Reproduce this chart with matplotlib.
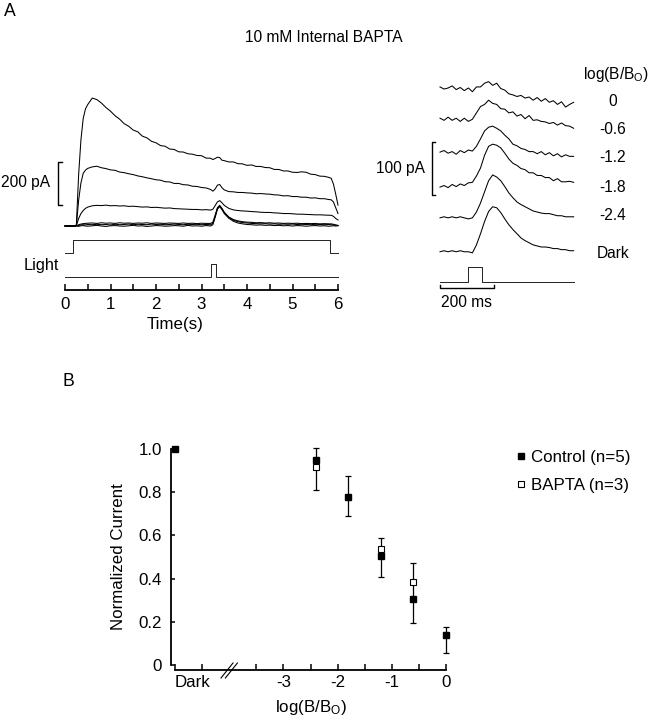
import matplotlib
matplotlib.use('Agg')
import matplotlib.pyplot as plt
from matplotlib.lines import Line2D
from matplotlib.transforms import IdentityTransform

plt.rcParams['font.family'] = ['Liberation Sans', 'DejaVu Sans']
plt.rcParams['mathtext.fontset'] = 'custom'
plt.rcParams['mathtext.rm'] = 'Liberation Sans'
plt.rcParams['mathtext.it'] = 'Liberation Sans:italic'
plt.rcParams['mathtext.bf'] = 'Liberation Sans:bold'

# ---------------- data: panel A, left (full light step responses) ----------------
time_s = [0.0, 0.1, 0.2, 0.25, 0.3, 0.35, 0.4, 0.45, 0.5,
          0.6, 0.7, 0.8, 0.9, 1.0, 1.1, 1.2, 1.3, 1.4, 1.5, 1.6, 1.7, 1.8, 1.9, 2.0,
          2.1, 2.2, 2.3, 2.4, 2.5, 2.6, 2.7, 2.8, 2.9, 3.0, 3.1, 3.2,
          3.25, 3.3, 3.35, 3.4, 3.45, 3.5,
          3.6, 3.7, 3.8, 3.9, 4.0, 4.1, 4.2, 4.3, 4.4, 4.5, 4.6, 4.7, 4.8, 4.9, 5.0,
          5.1, 5.2, 5.3, 5.4, 5.5, 5.6, 5.7, 5.8,
          5.85, 5.9, 5.95, 6.0]
current_log0 = [0, 2, -1, 5, 240, 400, 500, 545, 565,
                595, 588, 572, 551, 534, 513, 497, 476, 464, 446, 438, 418, 410, 394, 387,
                374, 371, 358, 356, 345, 344, 336, 334, 328, 327, 316, 315,
                309, 314, 320, 318, 306, 304,
                298, 298, 290, 289, 282, 284, 277, 277, 272, 271, 263, 263, 256, 256, 250,
                249, 252, 250, 241, 239, 232, 231, 226,
                222, 195, 148, 97]
current_log06 = [0, -2, 1, 3, 120, 200, 245, 260, 268,
                 275, 278, 271, 267, 261, 259, 251, 248, 243, 239, 233, 229, 224, 220, 215,
                 213, 206, 205, 198, 198, 192, 191, 185, 184, 179, 177, 170,
                 162, 172, 190, 193, 178, 168,
                 160, 159, 156, 156, 154, 153, 150, 151, 149, 148, 145, 144, 140, 141, 137,
                 137, 134, 134, 130, 131, 127, 127, 123,
                 122, 112, 85, 58]
current_log12 = [0, 1, -1, 2, 35, 58, 72, 82, 88,
                 94, 96, 95, 97, 94, 95, 93, 94, 91, 92, 90, 88, 89, 86, 87,
                 85, 83, 84, 81, 80, 79, 78, 77, 77, 75, 76, 74,
                 78, 95, 112, 118, 108, 96,
                 82, 75, 72, 70, 69, 67, 66, 64, 63, 63, 61, 60, 58, 58, 57,
                 55, 55, 54, 53, 52, 52, 51, 50,
                 50, 45, 35, 28]
current_log18 = [0, -1, 1, 0, 6, 9, 11, 12, 13,
                 14, 12, 15, 13, 14, 12, 15, 13, 14, 12, 14, 13, 15, 12, 14,
                 13, 12, 14, 13, 12, 14, 12, 13, 11, 13, 12, 12,
                 18, 50, 85, 96, 82, 64,
                 42, 30, 24, 20, 18, 17, 15, 16, 14, 15, 13, 14, 12, 13, 12,
                 13, 11, 12, 11, 12, 10, 11, 10,
                 10, 8, 5, 3]
current_log24 = [1, 0, -1, 1, 3, 5, 6, 5, 7,
                 6, 8, 6, 7, 5, 8, 6, 7, 9, 6, 8, 7, 6, 9, 7,
                 8, 6, 7, 9, 7, 6, 8, 7, 8, 6, 7, 6,
                 12, 45, 82, 94, 80, 62,
                 40, 27, 20, 16, 14, 12, 11, 10, 11, 9, 10, 8, 9, 8, 9,
                 7, 8, 7, 8, 6, 7, 6, 7,
                 6, 5, 3, 2]
current_dark = [0, 2, -1, 1, -2, 1, 2, 0, -1,
                1, 3, 0, -2, 1, 2, 0, -1, 1, 3, 0, 1, -2, 0, 2,
                1, -1, 0, 2, 1, -1, 3, 0, 1, -1, 2, 0,
                6, 40, 78, 90, 76, 58,
                36, 22, 14, 10, 7, 6, 4, 5, 3, 4, 2, 3, 1, 2, 0,
                2, 1, -1, 1, 2, 0, 1, -1,
                0, 1, 0, 1]
left_traces = [current_log0, current_log06, current_log12,
               current_log18, current_log24, current_dark]

step_t = [0.0, 0.18, 0.18, 5.82, 5.82, 6.0]
step_on = [0, 0, 1, 1, 0, 0]
flash_t = [0.0, 3.2, 3.2, 3.32, 3.32, 6.0]
flash_on = [0, 0, 1, 1, 0, 0]

# ---------------- data: panel A, right (flash responses, expanded) ----------------
time_ms = [0, 15, 30, 45, 60, 75, 90, 105, 120, 135, 150, 165, 180, 195, 210, 225, 240,
           255, 270, 285, 300, 315, 330, 345, 360, 375, 390, 405, 420, 435, 450, 465,
           480, 495]
flash_log0 = [2, -2, 0, 4, -3, 1, -5, 0, -7, 2, 2, 9, 12, 5, 9, -1, -4,
              -11, -13, -16, -14, -19, -17, -23, -18, -25, -20, -27, -24, -31, -26, -36,
              -31, -27]
flash_log06 = [3, -1, 5, -1, 3, -3, 3, -3, 1, 13, 25, 29, 37, 31, 29, 21, 20,
               13, 15, 7, 10, 2, 8, -1, 0, -3, -4, -7, -5, -10, -6, -11,
               -12, -16]
flash_log12 = [0, 3, -2, 1, -4, 3, -1, 4, 2, 11, 25, 40, 47, 49, 45, 40, 32,
               25, 15, 12, 7, 5, 1, 1, -3, 1, -5, -1, -7, -3, -9, -5,
               -8, -8]
flash_log18 = [0, 3, -1, 5, 1, 6, 3, 8, 9, 21, 36, 60, 77, 81, 79, 74, 64,
               53, 45, 41, 35, 33, 27, 27, 22, 22, 18, 18, 12, 16, 10, 10,
               11, 9]
flash_log24 = [0, 2, 0, 2, 0, 2, 0, -2, 0, 11, 28, 49, 70, 81, 77, 70, 59,
               47, 38, 30, 25, 21, 17, 13, 11, 9, 8, 8, 6, 4, 4, 2,
               2, 2]
flash_dark = [0, 2, 0, 2, 0, 2, 0, 0, -2, 13, 34, 57, 76, 85, 83, 74, 62,
              51, 42, 34, 26, 21, 17, 13, 11, 9, 9, 8, 6, 6, 4, 4,
              2, 2]
right_traces = [flash_log0, flash_log06, flash_log12, flash_log18, flash_log24, flash_dark]
right_labels = ['0', '-0.6', '-1.2', '-1.8', '-2.4', 'Dark']
pulse_t = [0, 105, 105, 157, 157, 495]
pulse_on = [0, 0, 1, 1, 0, 0]

# ---------------- data: panel B ----------------
dark_x = -5.0
dark_control = 1.0
light_x = [-2.4, -1.8, -1.2, -0.6, 0.0]
control_y = [0.95, 0.78, 0.505, 0.305, 0.138]
whisker_lo = [0.81, 0.69, 0.409, 0.193, 0.057]
whisker_hi = [1.005, 0.876, 0.589, 0.474, 0.177]
bapta_x = [-2.4, -1.2, -0.6]
bapta_y = [0.918, 0.536, 0.386]
b_ticks = [-5, -4.5, -3.5, -3, -2.5, -2, -1.5, -1, -0.5, 0]
b_ticklabels = ['Dark', '', '', '-3', '', '-2', '', '-1', '', '0']
y_ticks = [0, 0.2, 0.4, 0.6, 0.8, 1.0]
y_ticklabels = ['0', '0.2', '0.4', '0.6', '0.8', '1.0']

# ---------------- figure ----------------
W, H = 656, 720
fig = plt.figure(figsize=(W / 100, H / 100), dpi=100)
FS = 11.2
LOGLAB = r'log(B/B$_{\rm O}$)'


def fx(px):
    return px / W


def fy(py):
    return 1 - py / H


def add_axes_px(l, t, r, b):
    return fig.add_axes([fx(l), fy(b), (r - l) / W, (b - t) / H])


# ---- Panel A left ----
kL = 200 / 43.0  # pA per pixel
axL = add_axes_px(65, 90, 338, 290)
axL.set_xlim(0, 6)
axL.set_ylim((226 - 290) * kL, (226 - 90) * kL)
for s in ('top', 'right', 'left'):
    axL.spines[s].set_visible(False)
axL.spines['bottom'].set_linewidth(1.3)
axL.set_yticks([])
axL.set_xticks(range(7))
axL.set_xticks([i + 0.5 for i in range(6)], minor=True)
axL.tick_params(axis='x', which='both', direction='in', length=4.5, width=1.1,
                labelsize=FS + 1, pad=5)
axL.patch.set_visible(False)
for tr in left_traces:
    axL.plot(time_s, tr, color='black', lw=0.75, clip_on=False)
STEP_BASE, STEP_H = -125, 60
FLASH_BASE, FLASH_H = -237, 60
axL.plot(step_t, [STEP_BASE + STEP_H * v for v in step_on], color='#222222', lw=0.7, clip_on=False)
axL.plot(flash_t, [FLASH_BASE + FLASH_H * v for v in flash_on], color='#222222', lw=0.7, clip_on=False)
# scale bar 200 pA
axL.plot([-0.06, -0.15, -0.15, -0.06], [100, 100, 300, 300], color='black', lw=1.0, clip_on=False)
axL.text(-0.33, 200, '200 pA', ha='right', va='center', fontsize=FS)
axL.text(-0.13, -186, 'Light', ha='right', va='center', fontsize=FS + 0.5)
fig.text(fx(175), fy(325), 'Time(s)', ha='center', va='center', fontsize=FS + 1)

# ---- Panel A right ----
kR = 100 / 53.0
axR = add_axes_px(440, 75, 575, 300)
axR.set_xlim(0, 500)
axR.set_ylim(0, 225 * kR)
axR.axis('off')
offsets = [400, 340, 279, 213, 155, 91]
for tr, off in zip(right_traces, offsets):
    axR.plot(time_ms, [off + v for v in tr], color='black', lw=0.75, clip_on=False)
axR.plot(pulse_t, [34 + 28 * v for v in pulse_on], color='#222222', lw=0.7, clip_on=False)
axR.plot([-19, -30, -30, -19], [198, 198, 298, 298], color='black', lw=1.0, clip_on=False)
axR.text(-55, 249, '100 pA', ha='right', va='center', fontsize=FS)
axR.plot([0, 0, 200, 200], [28, 22.6, 22.6, 28], color='black', lw=1.0, clip_on=False)
axR.text(99, 10, '200 ms', ha='center', va='top', fontsize=FS)

fig.text(fx(583), fy(75), LOGLAB, ha='left', va='center', fontsize=FS)
for lab, py in zip(right_labels, [102, 130, 158, 187, 215, 253]):
    fig.text(fx(613), fy(py), lab, ha='center', va='center', fontsize=FS)

fig.text(fx(4), fy(11), 'A', ha='left', va='center', fontsize=FS + 1.5)
fig.text(fx(324), fy(38), '10 mM Internal BAPTA', ha='center', va='center', fontsize=FS)

# ---- Panel B ----
fig.text(fx(62), fy(381), 'B', ha='left', va='center', fontsize=FS + 1.5)
axB = add_axes_px(175, 449, 446, 665)
axB.set_xlim(-5, 0)
axB.set_ylim(0, 1.0)
for s in ('top', 'right'):
    axB.spines[s].set_visible(False)
axB.spines['left'].set_position(('outward', 2.6))
axB.spines['bottom'].set_position(('outward', 3.6))
axB.spines['left'].set_linewidth(1.3)
axB.spines['bottom'].set_linewidth(1.3)
axB.patch.set_visible(False)
axB.set_xticks(b_ticks)
axB.set_xticklabels(b_ticklabels)
axB.get_xticklabels()[0].set_ha('left')
axB.set_yticks(y_ticks)
axB.set_yticklabels(y_ticklabels)
axB.tick_params(axis='x', direction='in', length=4.5, width=1.1, labelsize=FS + 1, pad=3.5)
axB.tick_params(axis='y', direction='in', length=3, width=1.1, labelsize=FS + 1, pad=7)
axB.set_ylabel('Normalized Current', fontsize=FS + 1, labelpad=9)
axB.set_xlabel(LOGLAB, fontsize=FS + 1, labelpad=6)

yerr = [[c - lo for c, lo in zip(control_y, whisker_lo)],
        [hi - c for c, hi in zip(control_y, whisker_hi)]]
axB.errorbar(light_x, control_y, yerr=yerr, fmt='none', ecolor='black', elinewidth=0.9,
             capsize=2.2, capthick=0.9, clip_on=False)
axB.plot(bapta_x, bapta_y, 's', ms=4.6, mfc='white', mec='black', mew=0.8, clip_on=False, zorder=4)
axB.plot(light_x, control_y, 's', ms=4.6, color='black', clip_on=False, zorder=5)
axB.plot([dark_x], [dark_control], 's', ms=4.6, color='black', clip_on=False, zorder=5)

# axis break marks on the x axis
bx, by = axB.transData.transform((-4.0, 0.0))
for dx in (-2.2, 2.2):
    fig.add_artist(Line2D([bx - 6 + dx, bx + 6 + dx], [by - 5 - 8, by - 5 + 7],
                          color='black', lw=0.8, transform=IdentityTransform()))

handles = [Line2D([], [], marker='s', ls='none', ms=4.2, color='black'),
           Line2D([], [], marker='s', ls='none', ms=4.2, mfc='white', mec='black', mew=0.8)]
fig.legend(handles, ['Control (n=5)', 'BAPTA (n=3)'], loc='upper left',
           bbox_to_anchor=(fx(517), fy(450)), frameon=False, fontsize=FS + 1,
           handlelength=0.5, handletextpad=0.35, labelspacing=0.75,
           borderaxespad=0, borderpad=0)

fig.savefig('out.png', dpi=100)
